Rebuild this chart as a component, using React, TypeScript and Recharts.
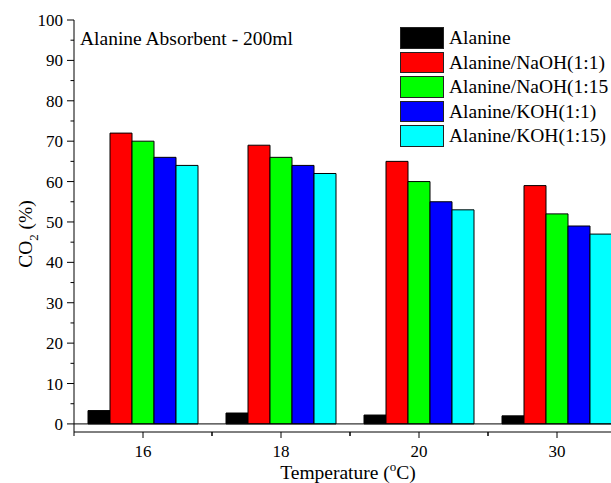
import React from "react";
import {
  BarChart,
  Bar,
  XAxis,
  YAxis,
  ReferenceLine,
  Legend,
  Customized,
} from "recharts";

const categories = ["16", "18", "20", "30"];
const alanine = [3.3, 2.7, 2.2, 2.0];
const naoh11 = [72, 69, 65, 59];
const naoh115 = [70, 66, 60, 52];
const koh11 = [66, 64, 55, 49];
const koh115 = [64, 62, 53, 47];
const yTicks = [0, 5, 10, 15, 20, 25, 30, 35, 40, 45, 50, 55, 60, 65, 70, 75, 80, 85, 90, 95, 100];

const seriesNames = [
  "Alanine",
  "Alanine/NaOH(1:1)",
  "Alanine/NaOH(1:15",
  "Alanine/KOH(1:1)",
  "Alanine/KOH(1:15)",
];
const seriesKeys = ["alanine", "naoh11", "naoh115", "koh11", "koh115"];
const seriesColors = ["#000000", "#ff0000", "#00ff00", "#0000ff", "#00ffff"];

const data = categories.map((cat, i) => ({
  cat,
  alanine: alanine[i],
  naoh11: naoh11[i],
  naoh115: naoh115[i],
  koh11: koh11[i],
  koh115: koh115[i],
}));

const FONT = "'Liberation Serif', 'Times New Roman', serif";

// bottom axis: major tick at each category, minor ticks at band edges
function BottomTick(props: any) {
  const { x, y, payload } = props;
  const half = payload?.offset ?? 69;
  return (
    <g>
      <line x1={x} y1={y} x2={x} y2={y + 6} stroke="#000" />
      <line x1={x - half} y1={y} x2={x - half} y2={y + 4} stroke="#000" />
      <line x1={x + half} y1={y} x2={x + half} y2={y + 4} stroke="#000" />
      <text x={x} y={y + 25} textAnchor="middle" fontSize={17} fontFamily={FONT} fill="#000">
        {payload.value}
      </text>
    </g>
  );
}

function TopTick(props: any) {
  const { x, y, payload } = props;
  const half = payload?.offset ?? 69;
  return (
    <g>
      <line x1={x} y1={y} x2={x} y2={y + 6} stroke="#000" />
      <line x1={x - half} y1={y} x2={x - half} y2={y + 4} stroke="#000" />
      <line x1={x + half} y1={y} x2={x + half} y2={y + 4} stroke="#000" />
    </g>
  );
}

function LeftTick(props: any) {
  const { x, y, payload } = props;
  const major = payload.value % 10 === 0;
  return (
    <g>
      <line x1={x - (major ? 7 : 3.5)} y1={y} x2={x} y2={y} stroke="#000" />
      {major && (
        <text x={x - 11} y={y + 6} textAnchor="end" fontSize={17} fontFamily={FONT} fill="#000">
          {payload.value}
        </text>
      )}
    </g>
  );
}

function Texts() {
  return (
    <g fontFamily={FONT} fill="#000">
      <text x={80} y={45} fontSize={19.5}>
        Alanine Absorbent - 200ml
      </text>
      <text transform="translate(32,234) rotate(-90)" textAnchor="middle" fontSize={19.5}>
        CO
        <tspan fontSize={13} dy={6}>2</tspan>
        <tspan dy={-6}> (%)</tspan>
      </text>
      <text x={348} y={479} textAnchor="middle" fontSize={19.5}>
        Temperature (
        <tspan fontSize={13} dy={-8}>o</tspan>
        <tspan dy={8}>C)</tspan>
      </text>
    </g>
  );
}

function LegendBox() {
  return (
    <div style={{ fontFamily: FONT, fontSize: 19.5, lineHeight: 1 }}>
      {seriesNames.map((name, i) => (
        <div key={name} style={{ display: "flex", alignItems: "center", height: 24.4 }}>
          <div
            style={{
              width: 44,
              height: 21.6,
              boxSizing: "border-box",
              border: "1.5px solid #222",
              background: seriesColors[i],
            }}
          />
          <span style={{ marginLeft: 5, whiteSpace: "nowrap", color: "#000" }}>{name}</span>
        </div>
      ))}
    </div>
  );
}

export default function App() {
  return (
    <>
      <style>{`body{margin:0}`}</style>
      <div style={{ width: 611, height: 483, overflow: "hidden", background: "#fff" }}>
        <BarChart
          width={640}
          height={483}
          data={data}
          margin={{ top: 20, right: 14, bottom: 0, left: 0 }}
          barCategoryGap={14}
          barGap={0}
        >
          <XAxis
            xAxisId="bottom"
            dataKey="cat"
            height={51}
            tickLine={false}
            tickSize={0}
            tickMargin={0}
            interval={0}
            tick={<BottomTick />}
            axisLine={{ stroke: "#000" }}
          />
          <XAxis
            xAxisId="top"
            dataKey="cat"
            orientation="top"
            height={0}
            tickLine={false}
            tickSize={0}
            tickMargin={0}
            interval={0}
            tick={<TopTick />}
            axisLine={{ stroke: "#000" }}
          />
          <YAxis
            type="number"
            width={74}
            domain={[-2, 100]}
            ticks={yTicks}
            interval={0}
            tickLine={false}
            tickSize={0}
            tickMargin={0}
            tick={<LeftTick />}
            axisLine={{ stroke: "#000" }}
          />
          <ReferenceLine xAxisId="bottom" y={0} stroke="#000" />
          {seriesKeys.map((k, i) => (
            <Bar
              key={k}
              xAxisId="bottom"
              dataKey={k}
              name={seriesNames[i]}
              fill={seriesColors[i]}
              stroke="#000"
              strokeWidth={1}
              isAnimationActive={false}
            />
          ))}
          <Legend
            layout="horizontal"
            verticalAlign="middle"
            align="center"
            content={() => <LegendBox />}
            wrapperStyle={{ left: 400, top: 26, width: 260 }}
          />
          <Customized component={Texts} />
        </BarChart>
      </div>
    </>
  );
}
